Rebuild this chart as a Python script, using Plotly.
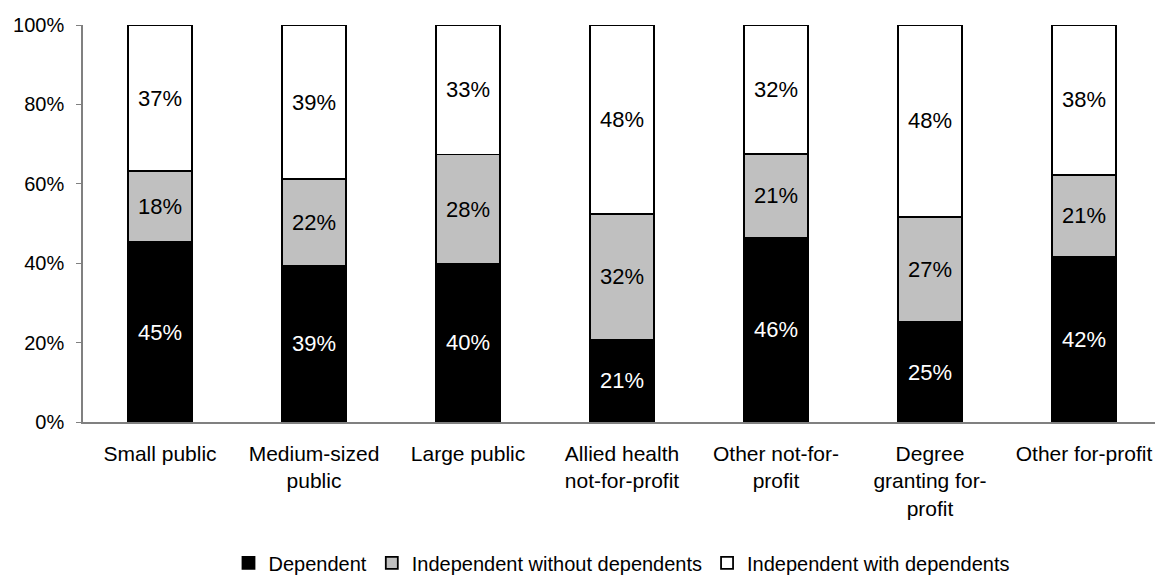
import plotly.graph_objects as go

categories = ["Small public", "Medium-sized<br>public", "Large public",
              "Allied health<br>not-for-profit", "Other not-for-<br>profit",
              "Degree<br>granting for-<br>profit", "Other for-profit"]
dependent = [45.3, 39.4, 39.8, 20.8, 46.4, 25.1, 41.7]
indep_without = [17.9, 21.8, 27.6, 31.6, 21.1, 26.6, 20.6]
indep_with = [36.8, 38.8, 32.6, 47.6, 32.4, 48.3, 37.7]

series = [
    ("Dependent", dependent, "#000000", "#ffffff"),
    ("Independent without dependents", indep_without, "#c0c0c0", "#000000"),
    ("Independent with dependents", indep_with, "#ffffff", "#000000"),
]

font_family = "Liberation Sans, Arial, sans-serif"
fig = go.Figure()
for name, vals, color, tcolor in series:
    fig.add_trace(go.Bar(
        x=categories, y=vals, name=name,
        marker=dict(color=color, line=dict(color="#000000", width=1.8)),
        texttemplate="%{y:.0f}%", textposition="inside", insidetextanchor="middle",
        textangle=0,
        textfont=dict(color=tcolor, size=22, family=font_family),
    ))

H = 585
B = H + 8 - 422
fig.update_layout(
    barmode="stack",
    bargap=0.585,
    width=1155, height=H,
    margin=dict(l=75, r=2, t=17, b=B),
    paper_bgcolor="white", plot_bgcolor="white",
    font=dict(family=font_family, size=21, color="#000000"),
    uniformtext=dict(minsize=22, mode="show"),
    legend=dict(orientation="h", x=0.5, xanchor="center", y=-0.355, yanchor="middle",
                font=dict(size=20), traceorder="normal", itemwidth=30),
    xaxis=dict(showline=True, linecolor="#808080", linewidth=1.5, ticks="",
               tickfont=dict(size=21), showgrid=False, ticklabelstandoff=12),
    yaxis=dict(range=[0, 100], dtick=20, ticksuffix="%", showline=True,
               linecolor="#808080", linewidth=1.5, ticks="outside", ticklen=5,
               tickcolor="#808080", showgrid=False, zeroline=False,
               tickfont=dict(size=20), ticklabelstandoff=8),
)

fig.write_html("out.html")
